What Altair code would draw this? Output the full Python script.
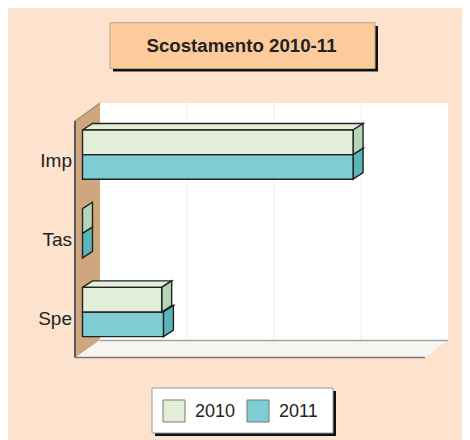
import altair as alt
import pandas as pd

categories = ["Imp", "Tas", "Spe"]
series = ["2010", "2011"]
values_2010 = [311, 0, 91]
values_2011 = [311, 0, 93]
grid_values = [100, 200, 300]

FONT = "Liberation Sans"
PEACH = "#fde3cd"
FRONT = {"2010": "#e2eed8", "2011": "#7dcdd2"}
SIDE = {"2010": "#b6d4b9", "2011": "#5ab5b9"}
INK = "#222222"

W, H = 454, 432
BASE, K = 82.5, 0.87          # page x of value 0, pixels per value unit
DX, DY = 10, 6.5              # bar depth
ROW0, ROW_STEP, HALF = 130, 78.7, 24.6


def vx(px):
    return (px - BASE) / K


x_scale = alt.Scale(domain=[vx(8), vx(8 + W)], range=[0, W], nice=False, zero=False)
y_scale = alt.Scale(domain=[8, 8 + H], range=[0, H], nice=False, zero=False)
DDX = DX / K


def X(f="x"):
    return alt.X(f"{f}:Q", scale=x_scale, axis=None, title=None)


def Y(f="y"):
    return alt.Y(f"{f}:Q", scale=y_scale, axis=None, title=None)


X2 = alt.X2("x2:Q")
Y2 = alt.Y2("y2:Q")


def rect(rows, fill, stroke=None, sw=1.0):
    kw = dict(fill=fill, strokeWidth=sw)
    if stroke:
        kw["stroke"] = stroke
    return alt.Chart(pd.DataFrame(rows)).mark_rect(**kw).encode(x=X(), x2=X2, y=Y(), y2=Y2)


def poly(points, fill, stroke="transparent", sw=1.0):
    """Closed outline drawn as a filled line through the shared scales."""
    closed = list(points) + [points[0]]
    rows = [dict(x=p[0], y=p[1], i=i) for i, p in enumerate(closed)]
    return alt.Chart(pd.DataFrame(rows)).mark_line(
        fill=fill, stroke=stroke, strokeWidth=sw, strokeJoin="miter"
    ).encode(x=X(), y=Y(), order=alt.Order("i:Q"))


def text(rows, size, align="center", weight="normal"):
    return alt.Chart(pd.DataFrame(rows)).mark_text(
        font=FONT, fontSize=size, align=align, baseline="alphabetic",
        fontWeight=weight, color=INK).encode(x=X(), y=Y(), text="t:N")


def line(pts, color, sw):
    return alt.Chart(pd.DataFrame(pts)).mark_line(color=color, strokeWidth=sw).encode(
        x=X(), y=Y(), order=alt.Order("i:Q"), detail="g:N")


layers = []

# title box
layers.append(rect([dict(x=vx(113), x2=vx(378), y=26, y2=71.5)], "#111111"))
layers.append(rect([dict(x=vx(110), x2=vx(375), y=22.7, y2=68.5)], "#fdca9b", "#bfa488", 1))
layers.append(text([dict(x=vx(241.5), y=52, t="Scostamento 2010-11")], 18.7, weight="bold"))

# back wall
layers.append(rect([dict(x=vx(100), x2=vx(448), y=103, y2=340)], "#ffffff"))
# floor
layers.append(poly([(vx(100), 340), (vx(448), 340), (vx(425), 357.5), (vx(75), 357.5)], "#f8f6f3"))
# grid
grid_rows = []
for g in grid_values:
    back = vx(100) + g
    front = back - (25 / K)
    grid_rows += [dict(x=back, y=103, i=0, g=g), dict(x=back, y=340, i=1, g=g), dict(x=front, y=357.5, i=2, g=g)]
layers.append(line(grid_rows, "#f6eee6", 1))
layers.append(line([dict(x=vx(100), y=340.5, i=0, g=0), dict(x=vx(448), y=340.5, i=1, g=0)], "#a3a3a3", 1.5))
layers.append(line([dict(x=vx(75), y=357.5, i=0, g=0), dict(x=vx(425), y=357.5, i=1, g=0)], "#777777", 1.5))
# left wall
layers.append(poly([(vx(75), 121), (vx(100), 103), (vx(100), 340), (vx(75), 357.5)], "#cfa67e"))
layers.append(line([dict(x=vx(75), y=121, i=0, g=0), dict(x=vx(75), y=357.5, i=1, g=0)], "#5a5a5a", 2))
layers.append(line([dict(x=vx(75), y=121, i=0, g=0), dict(x=vx(100), y=103, i=1, g=0)], "#8a7360", 1))

# bars: the lower series first, so the upper front face covers its top face
all_values = {"2010": values_2010, "2011": values_2011}
for ci, cat in enumerate(categories):
    for si, s in reversed(list(enumerate(series))):
        v = all_values[s][ci]
        top = ROW0 + ci * ROW_STEP + si * HALF
        bot = top + HALF
        if v > 0:
            layers.append(poly([(0, top), (DDX, top - DY), (v + DDX, top - DY), (v, top)],
                               FRONT[s], INK, 1.4))
        layers.append(poly([(v, top), (v + DDX, top - DY), (v + DDX, bot - DY), (v, bot)],
                           SIDE[s], INK, 1.4))
        if v > 0:
            layers.append(rect([dict(x=0, x2=v, y=top, y2=bot)], FRONT[s], INK, 1.4))

# category labels
layers.append(text([dict(x=vx(72), y=ROW0 + i * ROW_STEP + HALF + 12.5, t=c)
                    for i, c in enumerate(categories)], 19, align="right"))

# legend
layers.append(rect([dict(x=vx(155), x2=vx(336), y=391, y2=436)], "#111111"))
layers.append(rect([dict(x=vx(152), x2=vx(333), y=388, y2=433)], "#ffffff", "#999999", 1))
for i, s in enumerate(series):
    sx = 163 + i * 84
    layers.append(rect([dict(x=vx(sx), x2=vx(sx + 22), y=400, y2=422)], FRONT[s], "#777777", 1))
    layers.append(text([dict(x=vx(sx + 32), y=417, t=s)], 18, align="left"))

chart = alt.layer(*layers).properties(
    width=W, height=H, background=PEACH,
    autosize=alt.AutoSizeParams(type="none"),
    padding=0,
).configure_view(stroke=None)

chart.save("out.html", embed_options={"renderer": "svg", "actions": False})
